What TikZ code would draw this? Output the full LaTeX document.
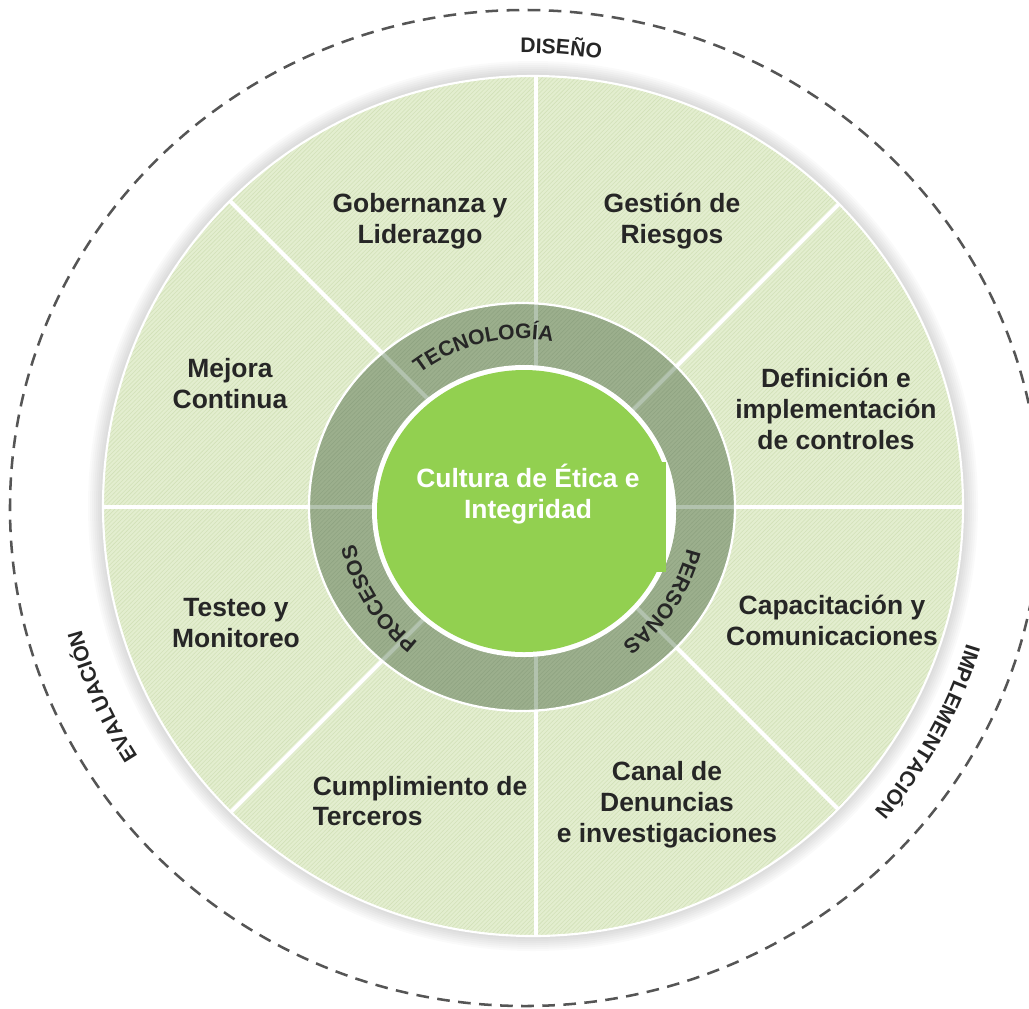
\documentclass[tikz,border=0pt]{standalone}
\usepackage{fontspec}
\setmainfont{Liberation Sans}
\usetikzlibrary{decorations.text,patterns}
\definecolor{sector}{HTML}{E3EECF}
\definecolor{sectorhatch}{HTML}{D2E1B8}
\definecolor{ringc}{HTML}{9CAF8D}
\definecolor{ringhatch}{HTML}{8FA381}
\definecolor{ringline}{HTML}{B2C2AE}
\definecolor{core}{HTML}{92D050}
\definecolor{txt}{HTML}{262626}
\definecolor{dashgray}{HTML}{555555}
\begin{document}
\begin{tikzpicture}[x=0.025cm,y=0.025cm]
	\tikzset{segtext/.style = {font=\bfseries\fontsize{18.8}{22}\selectfont, text=txt, align=center}}
	\tikzset{arctext/.style = {decorate, decoration={text along path, text align=center, text color=txt,
		text={|\bfseries\fontsize{15}{15}\selectfont|#1}}}}
	\useasboundingbox (0,0) rectangle (1029,-1008);
	\clip (0,0) rectangle (1029,-1008);
	% outer cycle
	\draw[dashgray, line width=1.8pt, dash pattern=on 9pt off 6pt] (525,-508) ellipse [x radius=515, y radius=498];
	\begin{scope}[shift={(525,-508)}]
		\path[arctext=DISEÑO] (115:455) arc[start angle=115, end angle=56, radius=455];
		\path[arctext=IMPLEMENTACIÓN] (1:462) arc[start angle=1, end angle=-59, radius=462];
		\path[arctext=EVALUACIÓN] (-126:460) arc[start angle=-126, end angle=-186, radius=460];
	\end{scope}
	% big disk with soft shadow
	\foreach \r in {431,433,...,445} \fill[black, opacity=0.02] (533,-506) circle (\r);
	\fill[sector] (533,-506) circle (430);
	\fill[pattern=north east lines, pattern color=sectorhatch] (533,-506) circle (430);
	\begin{scope}
		\clip (533,-506) circle (430);
		\foreach \a in {0,45,...,315} \draw[white, line width=2.8pt] (536,-507) -- ++(\a:460);
	\end{scope}
	\draw[white, line width=1.5pt] (533,-506) circle (430);
	% ring
	\fill[ringc] (522,-507) ellipse [x radius=213, y radius=204];
	\fill[pattern=north east lines, pattern color=ringhatch] (522,-507) ellipse [x radius=213, y radius=204];
	\begin{scope}
		\clip (522,-507) ellipse [x radius=213, y radius=204];
		\foreach \a in {0,45,...,315} \draw[ringline, line width=2.8pt] (536,-507) -- ++(\a:240);
	\end{scope}
	\draw[white, line width=1.6pt] (522,-507) ellipse [x radius=213, y radius=204];
	% core
	\fill[white] (524,-511) ellipse [x radius=152, y radius=146];
	\fill[core] (524,-511) ellipse [x radius=147, y radius=141];
	\begin{scope}
		\clip (524,-511) ellipse [x radius=152, y radius=146];
		\fill[white] (640,-462) rectangle (700,-572);
	\end{scope}
	\fill[core] (600,-462) rectangle (666,-572);
	\begin{scope}[shift={(522,-507)}]
		\path[arctext=TECNOLOGÍA] (150:168) arc[start angle=150, end angle=57, radius=168];
		\path[arctext=PERSONAS] (13:170) arc[start angle=13, end angle=-81, radius=170];
		\path[arctext=PROCESOS] (-100:171) arc[start angle=-100, end angle=-195, radius=171];
	\end{scope}
	% labels
	\node[segtext, text=white] (cultura) at (528,-494) {Cultura de Ética e\\Integridad};
	\node[segtext] (gobernanza) at (420,-221) {Gobernanza y\\Liderazgo};
	\node[segtext] (riesgos) at (672,-221) {Gestión de\\Riesgos};
	\node[segtext] (controles) at (836,-409) {Definición e\\implementación\\de controles};
	\node[segtext] (capacitacion) at (832,-620) {Capacitación y\\Comunicaciones};
	\node[segtext] (denuncias) at (667,-805) {Canal de\\Denuncias\\e investigaciones};
	\node[segtext, align=left] (terceros) at (420,-801) {Cumplimiento de\\Terceros};
	\node[segtext] (testeo) at (236,-623) {Testeo y\\Monitoreo};
	\node[segtext] (mejora) at (230,-384) {Mejora\\Continua};
\end{tikzpicture}
\end{document}
